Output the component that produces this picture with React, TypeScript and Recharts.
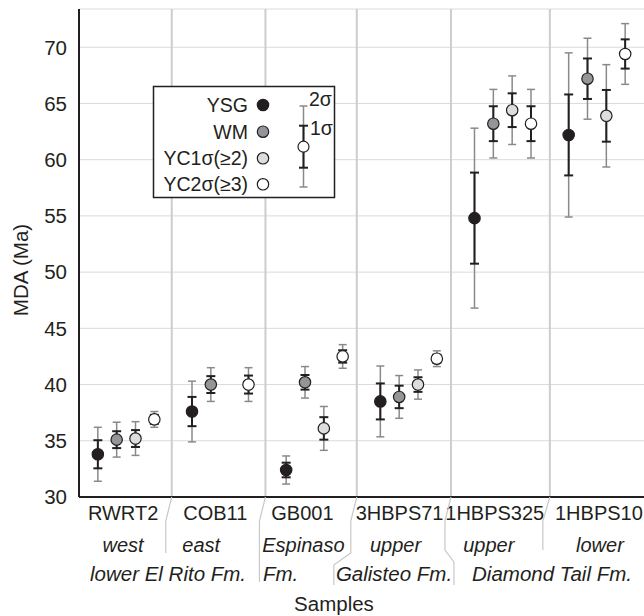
import { ScatterChart, Scatter, XAxis, YAxis, CartesianGrid, ReferenceLine, ErrorBar } from 'recharts'

const FONT = '"Liberation Sans", Arial, sans-serif'
const INK = '#231f20'

// samples along the x axis
const samples = ['RWRT2', 'COB11', 'GB001', '3HBPS71', '1HBPS325', '1HBPS10']
const sampleNotes = ['west', 'east', 'Espinaso', 'upper', 'upper', 'lower']
const formations = ['lower El Rito Fm.', 'Fm.', 'Galisteo Fm.', 'Diamond Tail Fm.']

// MDA values (Ma) with 1 sigma and 2 sigma errors
const ysg = [33.8, 37.6, 32.4, 38.5, 54.8, 62.2]
const ysg1 = [1.25, 1.3, 0.65, 1.6, 4.05, 3.6]
const ysg2 = [2.4, 2.7, 1.25, 3.15, 8.0, 7.3]

const wm = [35.1, 40.0, 40.2, 38.9, 63.2, 67.2]
const wm1 = [0.75, 0.75, 0.65, 1.0, 1.55, 1.8]
const wm2 = [1.55, 1.5, 1.4, 1.9, 3.05, 3.6]

const yc1 = [35.2, null, 36.1, 40.0, 64.4, 63.9]
const yc1s1 = [0.75, null, 1.0, 0.65, 1.5, 2.3]
const yc1s2 = [1.5, null, 1.95, 1.3, 3.05, 4.55]

const yc2 = [36.9, 40.0, 42.5, 42.3, 63.2, 69.4]
const yc2s1 = [0.4, 0.8, 0.55, 0.35, 1.55, 1.3]
const yc2s2 = [0.7, 1.5, 1.05, 0.7, 3.05, 2.7]

const yTicks = [30, 35, 40, 45, 50, 55, 60, 65, 70]
// group dividers (in sample units)
const dividers = [0.985, 1.98, 2.95, 3.95, 5.0]

// label nudges (px)
const nameDx = [-3, -5, -12, -9, -8, 2]
const noteDx = [-3, -19, -11, -13, -14, 3]

const series = [
  { name: 'YSG', values: ysg, s1: ysg1, s2: ysg2, fill: INK },
  { name: 'WM', values: wm, s1: wm1, s2: wm2, fill: '#939598' },
  { name: 'YC1σ(≥2)', values: yc1, s1: yc1s1, s2: yc1s2, fill: '#dcddde' },
  { name: 'YC2σ(≥3)', values: yc2, s1: yc2s1, s2: yc2s2, fill: '#ffffff' },
]

function toPoints(values: (number | null)[], s1: (number | null)[], s2: (number | null)[], slot: number) {
  return samples
    .map((name, i) => ({ name, x: i + (slot + 1) / 5, y: values[i], e1: s1[i], e2: s2[i] }))
    .filter((p) => p.y != null)
}

const dot = (fill: string) => (p: any) => (
  <circle cx={p.cx} cy={p.cy} r={5.7} fill={fill} stroke={INK} strokeWidth={1.2} />
)

function SampleTick(props: any) {
  const { x, y, payload } = props
  const i = Math.round(payload.value - 0.5)
  return (
    <g fontFamily={FONT} fontSize={20} fill={INK}>
      <text x={x + nameDx[i]} y={y + 16} textAnchor="middle" dominantBaseline="central">
        {samples[i]}
      </text>
      <text x={x + noteDx[i]} y={y + 48} textAnchor="middle" dominantBaseline="central" fontStyle="italic">
        {sampleNotes[i]}
      </text>
    </g>
  )
}

// plot geometry used for the annotation overlay
const PL = 79
const PW = 565
const AXIS_Y = 497
const px = (d: number) => PL + (d * PW) / 6

export default function App() {
  const brackets = [
    `M${px(dividers[0])} ${AXIS_Y} L${px(dividers[0]) - 6} 521 L${px(dividers[0]) - 6} 553`,
    `M${px(dividers[1])} ${AXIS_Y} L${px(dividers[1]) - 6} 521 L${px(dividers[1]) - 6} 582`,
    `M${px(dividers[2])} ${AXIS_Y} L${px(dividers[2]) - 6} 521 L${px(dividers[2]) - 6} 553 L${px(dividers[2]) - 23} 565 L${px(dividers[2]) - 23} 585`,
    `M${px(dividers[3])} ${AXIS_Y} L${px(dividers[3]) - 6} 521 L${px(dividers[3]) - 6} 550 L${px(dividers[3]) + 3} 562 L${px(dividers[3]) + 3} 585`,
    `M${px(dividers[4])} ${AXIS_Y} L${px(dividers[4]) - 7} 521 L${px(dividers[4]) - 7} 550`,
  ]
  const legendRows = [105, 131.7, 158.3, 184.3]

  return (
    <div style={{ position: 'absolute', left: 0, top: 0, width: 644, height: 616, background: '#fff' }}>
      <ScatterChart width={644} height={616} margin={{ top: 9, right: 0, bottom: 0, left: 0 }}>
        <CartesianGrid vertical={false} stroke="#dadada" strokeWidth={1} />
        {dividers.map((d) => (
          <ReferenceLine key={d} x={d} stroke="#cdcdcd" strokeWidth={2} />
        ))}
        <XAxis
          type="number"
          dataKey="x"
          domain={[0, 6]}
          ticks={[0.5, 1.5, 2.5, 3.5, 4.5, 5.5]}
          tick={<SampleTick />}
          tickLine={false}
          tickSize={0}
          tickMargin={0}
          height={119}
          axisLine={{ stroke: INK, strokeWidth: 2 }}
        />
        <YAxis
          type="number"
          dataKey="y"
          domain={[30, 73.4]}
          ticks={yTicks}
          width={79}
          tickLine={false}
          tickSize={0}
          tickMargin={12}
          tick={{ fontSize: 20.5, fill: INK, fontFamily: FONT }}
          axisLine={{ stroke: INK, strokeWidth: 2 }}
        />
        {series.map((s, k) => (
          <Scatter
            key={s.name}
            name={s.name}
            data={toPoints(s.values, s.s1, s.s2, k)}
            shape={dot(s.fill)}
            isAnimationActive={false}
          >
            <ErrorBar dataKey="e2" direction="y" width={4} stroke="#8a8a8a" strokeWidth={1.5} isAnimationActive={false} />
            <ErrorBar dataKey="e1" direction="y" width={4.5} stroke={INK} strokeWidth={2} isAnimationActive={false} />
          </Scatter>
        ))}
      </ScatterChart>

      <svg width={644} height={616} style={{ position: 'absolute', left: 0, top: 0, pointerEvents: 'none' }}>
        {brackets.map((d, i) => (
          <path key={i} d={d} fill="none" stroke="#c8c8c8" strokeWidth={1.2} />
        ))}
        <g fontFamily={FONT} fontSize={20.5} fill={INK} fontStyle="italic">
          <text x={168} y={573} textAnchor="middle" dominantBaseline="central">{formations[0]}</text>
          <text x={263} y={573} textAnchor="start" dominantBaseline="central">{formations[1]}</text>
          <text x={394} y={573} textAnchor="middle" dominantBaseline="central">{formations[2]}</text>
          <text x={552} y={573} textAnchor="middle" dominantBaseline="central">{formations[3]}</text>
        </g>
        <text x={334} y={603} textAnchor="middle" dominantBaseline="central" fontFamily={FONT} fontSize={20.5} fill={INK}>
          Samples
        </text>
        <text
          transform="translate(20,270) rotate(-90)"
          textAnchor="middle"
          dominantBaseline="central"
          fontFamily={FONT}
          fontSize={20.5}
          fill={INK}
        >
          MDA (Ma)
        </text>

        {/* legend */}
        <rect x={153.5} y={86.5} width={181} height={111} fill="#fff" stroke={INK} strokeWidth={1.5} />
        {series.map((s, k) => (
          <g key={s.name}>
            <text
              x={248}
              y={legendRows[k]}
              textAnchor="end"
              dominantBaseline="central"
              fontFamily={FONT}
              fontSize={19.5}
              fill={INK}
            >
              {s.name}
            </text>
            <circle cx={263} cy={legendRows[k]} r={5.7} fill={s.fill} stroke={INK} strokeWidth={1.2} />
          </g>
        ))}
        <line x1={303.5} x2={303.5} y1={106} y2={187} stroke="#8a8a8a" strokeWidth={1.5} />
        <line x1={299.5} x2={307.5} y1={106} y2={106} stroke="#8a8a8a" strokeWidth={1.5} />
        <line x1={299.5} x2={307.5} y1={187} y2={187} stroke="#8a8a8a" strokeWidth={1.5} />
        <line x1={303.5} x2={303.5} y1={125.7} y2={167.7} stroke={INK} strokeWidth={2} />
        <line x1={299} x2={308} y1={125.7} y2={125.7} stroke={INK} strokeWidth={2} />
        <line x1={299} x2={308} y1={167.7} y2={167.7} stroke={INK} strokeWidth={2} />
        <circle cx={303.5} cy={146.7} r={5.5} fill="#fff" stroke={INK} strokeWidth={1.2} />
        <text x={309} y={99} dominantBaseline="central" fontFamily={FONT} fontSize={19.5} fill={INK}>2σ</text>
        <text x={310} y={128} dominantBaseline="central" fontFamily={FONT} fontSize={19.5} fill={INK}>1σ</text>
      </svg>
    </div>
  )
}
